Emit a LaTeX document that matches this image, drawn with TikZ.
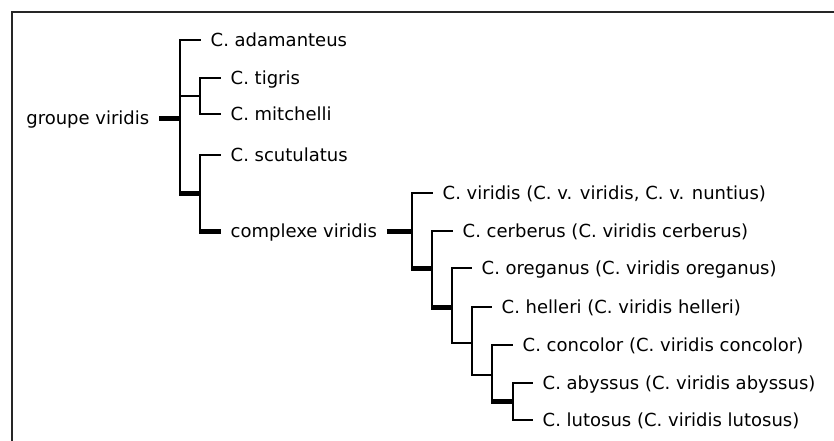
\documentclass[tikz,border=0pt]{standalone}
\usepackage{fontspec}
\setmainfont{DejaVu Sans}
\begin{document}
\begin{tikzpicture}[x=1pt,y=-1pt,
  tl/.style={line width=1.3pt},
  tv/.style={line width=2pt},
  th/.style={line width=5pt},
  frame/.style={line width=2pt,black!85},
  lab/.style={font=\fontsize{18pt}{21pt}\selectfont, text height=13.1pt, text depth=0pt, inner xsep=9.5pt, inner ysep=0pt},
  leaf/.style={lab, anchor=west},
  inner/.style={lab, anchor=east}]
\useasboundingbox (0,0) rectangle (834,441);
\coordinate (fTR) at (835,12);
\coordinate (fBL) at (12,442);
\draw[frame] (fTR) -| (fBL);

% leaves
\node[inner] (gv) at (159,118) {groupe viridis};
\node[leaf] (adam) at (201,40) {C. adamanteus};
\node[leaf] (tig) at (221,78) {C. tigris};
\node[leaf] (mit) at (221,114) {C. mitchelli};
\node[leaf] (scut) at (221,155) {C. scutulatus};
\node[leaf] (cv) at (221,231) {complexe viridis};
\node[leaf] (vir) at (433,193) {C. viridis (C. v. viridis, C. v. nuntius)};
\node[leaf] (cer) at (453,231) {C. cerberus (C. viridis cerberus)};
\node[leaf] (ore) at (472,268) {C. oreganus (C. viridis oreganus)};
\node[leaf] (hel) at (492,307) {C. helleri (C. viridis helleri)};
\node[leaf] (con) at (513,345) {C. concolor (C. viridis concolor)};
\node[leaf] (aby) at (533,383) {C. abyssus (C. viridis abyssus)};
\node[leaf] (lut) at (533,420) {C. lutosus (C. viridis lutosus)};

% internal nodes
\coordinate (r) at (180,118);
\coordinate (a) at (200,96);
\coordinate (b) at (200,193);
\coordinate (c1) at (412,231);
\coordinate (c2) at (432,268);
\coordinate (c3) at (452,307);
\coordinate (c4) at (472,343);
\coordinate (c5) at (492,375);
\coordinate (c6) at (513,401);

% root
\draw[th] (gv.east) -- (r);
\draw[tl] (r) |- (adam.west);
\draw[tl] (r) |- (a);
\draw[tv] (r) -- (r |- b);
\draw[th] ([xshift=-1pt]r |- b) -- (b);
% A
\draw[tl] (a) |- (tig.west);
\draw[tl] (a) |- (mit.west);
% B
\draw[tl] (b) |- (scut.west);
\draw[tv] (b) -- (b |- cv.west);
\draw[th] ([xshift=-1pt]b |- cv.west) -- (cv.west);
% complexe
\draw[th] (cv.east) -- (c1);
\draw[tl] (c1) |- (vir.west);
\draw[tv] (c1) -- (c1 |- c2);
\draw[th] ([xshift=-1pt]c1 |- c2) -- (c2);
\draw[tl] (c2) |- (cer.west);
\draw[tv] (c2) -- (c2 |- c3);
\draw[th] ([xshift=-1pt]c2 |- c3) -- (c3);
\draw[tl] (c3) |- (ore.west);
\draw[tl] (c3) |- (c4);
\draw[tl] (c4) |- (hel.west);
\draw[tl] (c4) |- (c5);
\draw[tl] (c5) |- (con.west);
\draw[tv] (c5) -- (c5 |- c6);
\draw[th] ([xshift=-1pt]c5 |- c6) -- (c6);
\draw[tl] (c6) |- (aby.west);
\draw[tl] (c6) |- (lut.west);
\end{tikzpicture}
\end{document}
